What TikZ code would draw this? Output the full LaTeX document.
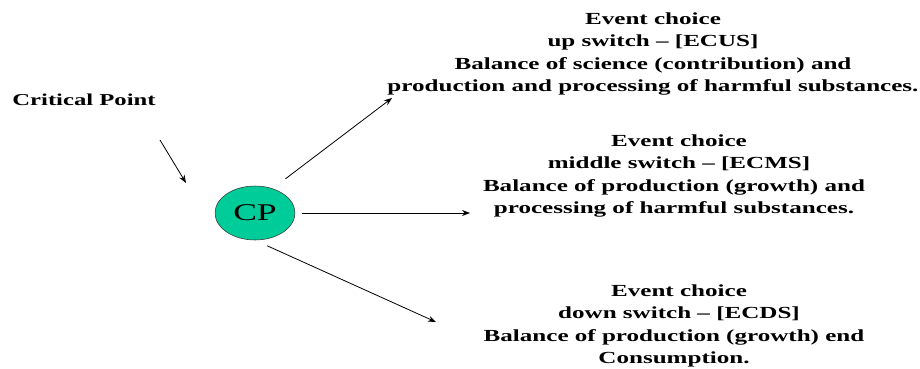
\documentclass[tikz,border=0pt]{standalone}
\usepackage{fontspec}
\setmainfont{Liberation Serif}
\usetikzlibrary{arrows.meta}
\definecolor{cpGreen}{HTML}{00CC99}

\begin{document}
\begin{tikzpicture}[x=0.75pt, y=-0.75pt,
        arr/.style={draw=black, line width=0.6pt, -{Stealth[length=6pt,width=4.5pt]}},
        choice/.style={font=\fontsize{12.7}{16.7}\selectfont\bfseries, align=center, inner sep=0pt, xscale=1.48}]
    \useasboundingbox (0,0) rectangle (920,368);
    \node[font=\fontsize{12.5}{15}\selectfont\bfseries, anchor=west, inner sep=0pt, xscale=1.48] (crit) at (12,100) {Critical Point};
    \node[circle, draw=black!80, fill=cpGreen, minimum size=40.5pt, inner sep=0pt, xscale=1.48, font=\fontsize{18}{20}\selectfont] (cp) at (255,213) {CP};
    \node[choice] (up) at (653,54) {Event choice\\ up switch -- [ECUS]\\ Balance of science (contribution) and\\ production and processing of harmful substances.};
    \node[choice] (middle) at (674,176) {\hspace*{0.4em}Event choice\\ \hspace*{0.4em}middle switch -- [ECMS]\\ Balance of production (growth) and\\ processing of harmful substances.};
    \node[choice] (down) at (674,326) {\hspace*{0.4em}Event choice\\ \hspace*{0.4em}down switch -- [ECDS]\\ Balance of production (growth) end\\ Consumption.};
    \coordinate (critTail) at (160,140);
    \coordinate (critHead) at (186,183);
    \coordinate (upEnd) at (392,98);
    \coordinate (midEnd) at (470,213);
    \coordinate (downEnd) at (436,322);
    \draw[arr] (critTail) -- (critHead);
    \draw[arr, shorten <=12pt] (cp.64) -- (upEnd);
    \draw[arr, shorten <=5pt] (cp.east) -- (midEnd);
    \draw[arr, shorten <=10pt] (cp.south) -- (downEnd);
\end{tikzpicture}
\end{document}
